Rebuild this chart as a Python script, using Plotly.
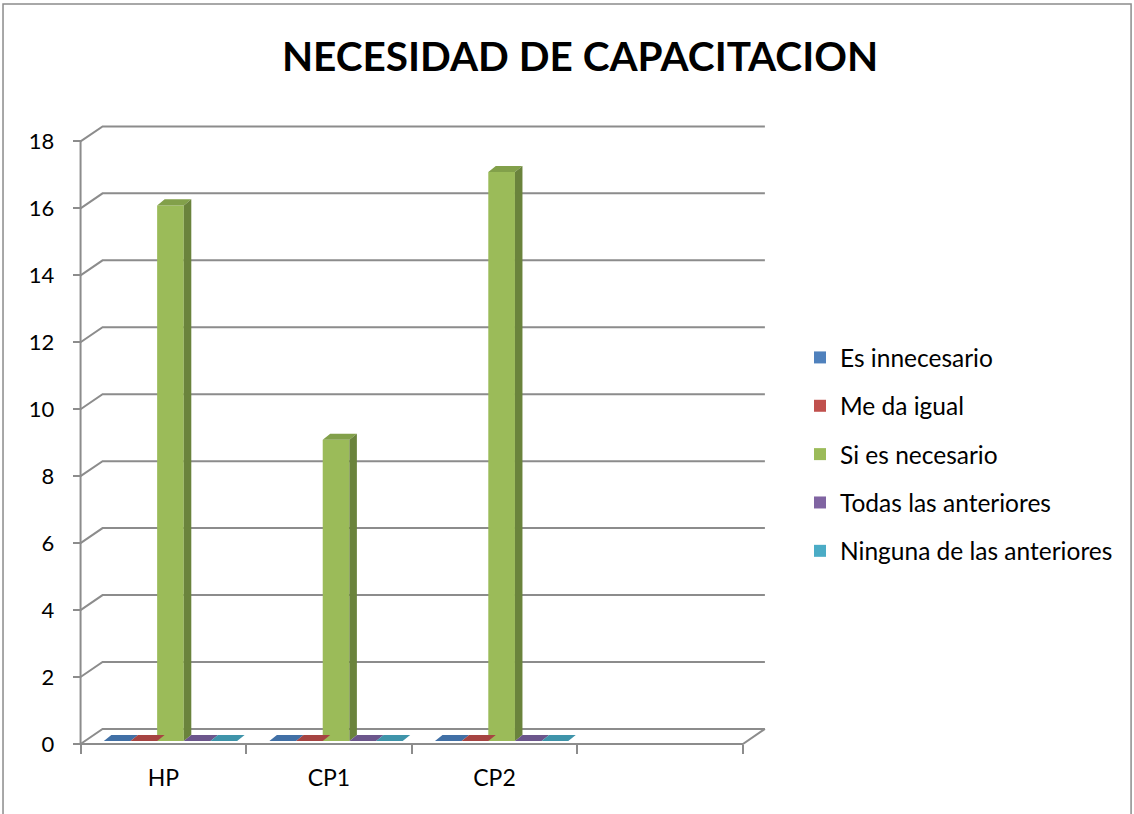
import plotly.graph_objects as go

# ---------------- data ----------------
categories = ["HP", "CP1", "CP2"]
n_slots = 4  # Excel leaves an empty fourth category slot
series_names = ["Es innecesario", "Me da igual", "Si es necesario",
                "Todas las anteriores", "Ninguna de las anteriores"]
es_innecesario = [0, 0, 0]
me_da_igual = [0, 0, 0]
si_es_necesario = [16, 9, 17]
todas_las_anteriores = [0, 0, 0]
ninguna_de_las_anteriores = [0, 0, 0]
y_ticks = [0, 2, 4, 6, 8, 10, 12, 14, 16, 18]
title_text = "NECESIDAD DE CAPACITACION"

series_values = [es_innecesario, me_da_igual, si_es_necesario,
                 todas_las_anteriores, ninguna_de_las_anteriores]

# ---------------- style ----------------
front_colors = ["#4F81BD", "#C0504D", "#9BBB59", "#8064A2", "#4BACC6"]
top_colors = ["#4170A6", "#A64442", "#82A04A", "#6C568C", "#3F94AA"]
side_colors = ["#375E8C", "#8A3836", "#6A833C", "#594775", "#357B8E"]
grid_color = "#8C8C8C"
FONT = "Lato"

W, H = 1134, 814
PX_X = 165.5      # pixels per category slot
PX_Y = 33.45      # pixels per y unit
X0_PX = 81.0      # pixel of x=0
Y0_PX = 744.0     # pixel of y=0
BACK_X = 22.0 / PX_X   # 3-D wall offset
BACK_Y = 15.0 / PX_Y
BAR_W = 0.161
CLUSTER_SHIFT = 0.043
BASE = 3.0 / PX_Y
DEPTH_X = 7.5 / PX_X
DEPTH_Y = 6.0 / PX_Y

XR = [-0.1, 4.2]
YR = [-0.3, 18.7]
plot_left = X0_PX + XR[0] * PX_X
plot_right = X0_PX + XR[1] * PX_X
plot_top = Y0_PX - YR[1] * PX_Y
plot_bottom = Y0_PX - YR[0] * PX_Y
plot_w = plot_right - plot_left
plot_h = plot_bottom - plot_top

fig = go.Figure()

n_series = len(series_names)
for i, (name, vals) in enumerate(zip(series_names, series_values)):
    xs = [k + 0.5 + CLUSTER_SHIFT + (i - (n_series - 1) / 2) * BAR_W
          for k in range(len(categories))]
    fig.add_trace(go.Bar(
        x=xs, y=vals, base=[BASE] * len(vals), width=BAR_W,
        name=name, marker=dict(color=front_colors[i], line=dict(width=0)),
        legendgroup=name, hoverinfo="skip",
    ))
    # top and side faces
    tx, ty, sx, sy = [], [], [], []
    for xc, v in zip(xs, vals):
        xl, xr = xc - BAR_W / 2, xc + BAR_W / 2
        top = BASE + v
        tx += [xl, xr, xr + DEPTH_X, xl + DEPTH_X, xl, None]
        ty += [top, top, top + DEPTH_Y, top + DEPTH_Y, top, None]
        if v > 0:
            sx += [xr, xr + DEPTH_X, xr + DEPTH_X, xr, xr, None]
            sy += [BASE, BASE + DEPTH_Y, top + DEPTH_Y, top, BASE, None]
    fig.add_trace(go.Scatter(x=tx, y=ty, mode="lines", fill="toself",
                             fillcolor=top_colors[i], line=dict(width=0),
                             showlegend=False, hoverinfo="skip"))
    if sx:
        fig.add_trace(go.Scatter(x=sx, y=sy, mode="lines", fill="toself",
                                 fillcolor=side_colors[i], line=dict(width=0),
                                 showlegend=False, hoverinfo="skip"))

# gridlines / walls (drawn below traces)
shapes = []
for v in y_ticks:
    shapes.append(dict(type="path", xref="x", yref="y", layer="below",
                       path=f"M 0,{v} L {BACK_X},{v + BACK_Y} L {n_slots + BACK_X},{v + BACK_Y}",
                       line=dict(color=grid_color, width=2)))
shapes.append(dict(type="path", xref="x", yref="y", layer="below",
                   path=f"M 0,0 L {n_slots},0 L {n_slots + BACK_X},{BACK_Y}",
                   line=dict(color=grid_color, width=2)))
shapes.append(dict(type="path", xref="x", yref="y", layer="below",
                   path=f"M 0,0 L 0,{max(y_ticks)}",
                   line=dict(color=grid_color, width=2)))


# outer chart frame (pixel -> paper)
def px2paper_x(px):
    return (px - plot_left) / plot_w


def px2paper_y(py):
    return (plot_bottom - py) / plot_h


shapes.append(dict(type="rect", xref="paper", yref="paper", layer="below",
                   x0=px2paper_x(3.5), x1=px2paper_x(1131),
                   y0=px2paper_y(840), y1=px2paper_y(4.5),
                   line=dict(color="#8C8C8C", width=1.5), fillcolor="rgba(0,0,0,0)"))

fig.update_layout(
    width=W, height=H,
    margin=dict(l=plot_left, r=W - plot_right, t=plot_top, b=H - plot_bottom, pad=0),
    paper_bgcolor="white", plot_bgcolor="rgba(0,0,0,0)",
    barmode="overlay",
    shapes=shapes,
    title=dict(text=f"<b>{title_text}</b>", x=580 / W, xref="container",
               xanchor="center", y=1 - 57 / H, yref="container", yanchor="middle",
               font=dict(family=FONT, size=40.5, color="black")),
    legend=dict(x=800 / W, xref="container", xanchor="left",
                y=1 - 335 / H, yref="container", yanchor="top",
                font=dict(family=FONT, size=24.5, color="black"),
                tracegroupgap=13.5, bgcolor="rgba(0,0,0,0)"),
    font=dict(family=FONT, color="black"),
    showlegend=True,
)

fig.update_xaxes(
    range=XR, anchor="free", position=(plot_bottom - Y0_PX) / plot_h,
    showgrid=False, zeroline=False, showline=False,
    tickmode="array", tickvals=[k + 0.5 for k in range(len(categories))], ticktext=categories,
    ticks="", ticklabelstandoff=18,
    tickfont=dict(family=FONT, size=23, color="black"),
    minor=dict(tickmode="array", tickvals=list(range(n_slots + 1)), ticks="outside",
               ticklen=9, tickwidth=2, tickcolor=grid_color, showgrid=False),
)
fig.update_yaxes(
    range=YR, anchor="free", position=(X0_PX - plot_left) / plot_w,
    showgrid=False, zeroline=False, showline=False,
    tickmode="array", tickvals=y_ticks,
    ticks="outside", ticklen=8, tickwidth=2, tickcolor=grid_color,
    ticklabelstandoff=14,
    tickfont=dict(family=FONT, size=22, color="black"),
)

fig.write_html("out.html",
               config={"displayModeBar": False},
               post_script="document.body.style.margin='0';document.body.style.overflow='hidden';")
